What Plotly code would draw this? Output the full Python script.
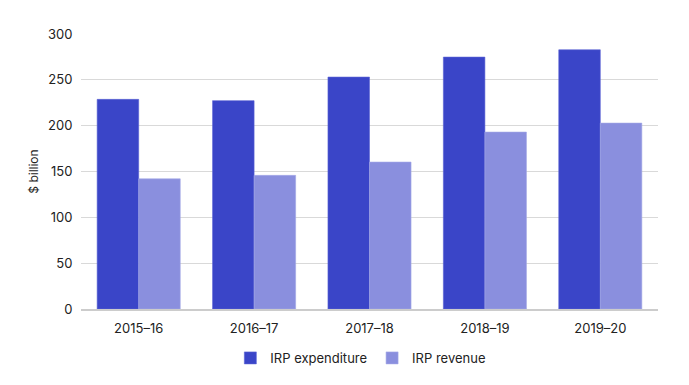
import plotly.graph_objects as go

categories = ["2015–16", "2016–17", "2017–18", "2018–19", "2019–20"]
irp_expenditure = [228.7, 227.3, 253.0, 274.8, 282.8]
irp_revenue = [142.0, 145.8, 160.3, 193.0, 202.8]
y_ticks = [0, 50, 100, 150, 200, 250, 300]

fig = go.Figure()
fig.add_trace(go.Bar(x=categories, y=irp_expenditure, name="IRP expenditure",
                     marker=dict(color="#3A45C8", line=dict(color="#5A63D4", width=0.6))))
fig.add_trace(go.Bar(x=categories, y=irp_revenue, name="IRP revenue",
                     marker=dict(color="#8A8FDE", line=dict(color="#A3A7E6", width=0.6))))

fig.update_layout(
    width=681, height=377,
    margin=dict(l=73, r=31, t=26, b=74),
    paper_bgcolor="white", plot_bgcolor="white",
    barmode="group", bargap=0.28, bargroupgap=0,
    font=dict(family="Inter", size=13, color="#222222"),
    legend=dict(orientation="h", x=0.485, xanchor="center", y=-0.178, yanchor="middle",
                font=dict(size=13), itemwidth=30, tracegroupgap=0),
    xaxis=dict(showgrid=False, ticks="outside", ticklen=6, tickcolor="rgba(0,0,0,0)",
               tickfont=dict(size=13), automargin=False,
               showline=True, linecolor="#cccccc", linewidth=2),
    yaxis=dict(range=[0, 300], tickvals=y_ticks, showgrid=True, gridcolor="#d9d9d9",
               gridwidth=1, zeroline=False, ticks="outside", ticklen=5,
               tickcolor="rgba(0,0,0,0)", tickfont=dict(size=13), automargin=False,
               title=dict(text="$ billion", font=dict(size=12), standoff=6)),
)

fig.write_html("out.html")
